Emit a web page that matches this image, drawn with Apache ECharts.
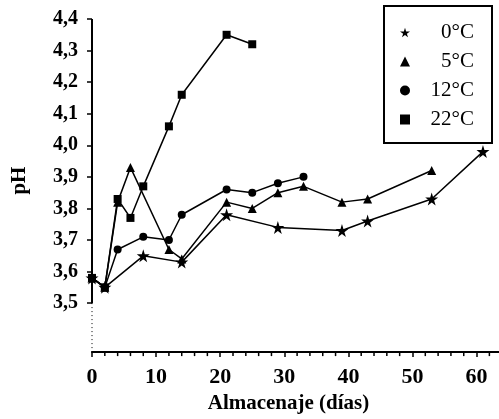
<!DOCTYPE html>
<html>
<head>
<meta charset="utf-8">
<script src="https://cdn.jsdelivr.net/npm/echarts@6/dist/echarts.min.js"></script>
<style>html,body{margin:0;padding:0;background:#fff;}#c{width:499px;height:419px;}</style>
</head>
<body>
<div id="c"></div>
<script>
// ---- data ----
const seriesNames = ['0°C', '5°C', '12°C', '22°C'];
const days0  = [0, 2, 8, 14, 21, 29, 39, 43, 53, 61];
const ph0    = [3.58, 3.55, 3.65, 3.63, 3.78, 3.74, 3.73, 3.76, 3.83, 3.98];
const days5  = [0, 2, 4, 6, 12, 14, 21, 25, 29, 33, 39, 43, 53];
const ph5    = [3.58, 3.55, 3.82, 3.93, 3.67, 3.64, 3.82, 3.80, 3.85, 3.87, 3.82, 3.83, 3.92];
const days12 = [0, 2, 4, 8, 12, 14, 21, 25, 29, 33];
const ph12   = [3.58, 3.55, 3.67, 3.71, 3.70, 3.78, 3.86, 3.85, 3.88, 3.90];
const days22 = [0, 2, 4, 6, 8, 12, 14, 21, 25];
const ph22   = [3.58, 3.55, 3.83, 3.77, 3.87, 4.06, 4.16, 4.35, 4.32];
const yTicks = [3.5, 3.6, 3.7, 3.8, 3.9, 4.0, 4.1, 4.2, 4.3, 4.4];
const xTicks = [0, 10, 20, 30, 40, 50, 60];

const FONT = 'Liberation Serif';
const STAR = 'path://M50,0 L61,35 L98,35 L68,57 L79,91 L50,70 L21,91 L32,57 L2,35 L39,35 Z';
const symbols = [STAR, 'triangle', 'circle', 'rect'];
const symSizes = [13, 9, 8, 8];

const pairs = (xs, ys) => xs.map((x, i) => [x, ys[i]]);
const allData = [pairs(days0, ph0), pairs(days5, ph5), pairs(days12, ph12), pairs(days22, ph22)];

const chart = echarts.init(document.getElementById('c'), null, {renderer: 'canvas'});

const dataSeries = seriesNames.map((n, i) => ({
  name: n,
  type: 'line',
  data: allData[i],
  symbol: symbols[i],
  symbolSize: symSizes[i],
  showAllSymbol: true,
  clip: false,
  lineStyle: {color: '#000', width: 1.5},
  itemStyle: {color: '#000', borderWidth: 0},
  emphasis: {disabled: true},
  z: 3 + i
}));

const yMin = 3.345, yMax = 4.4;

const option = {
  animation: false,
  backgroundColor: '#fff',
  grid: {left: 92, right: 0, top: 19, bottom: 61, containLabel: false},
  xAxis: {
    type: 'value', min: 0, max: 63.5,
    name: 'Almacenaje (días)', nameLocation: 'middle', nameGap: 38,
    nameTextStyle: {fontFamily: FONT, fontWeight: 'bold', fontSize: 21, color: '#000', padding: [0, 14, 0, 0]},
    axisLine: {show: true, lineStyle: {color: '#000', width: 2}},
    axisTick: {show: true, customValues: xTicks, length: 5, inside: false, lineStyle: {color: '#000', width: 1.5}},
    minorTick: {show: false},
    axisLabel: {customValues: xTicks, margin: 14, fontFamily: FONT, fontWeight: 'bold', fontSize: 22, color: '#000'},
    splitLine: {show: false}
  },
  yAxis: {
    type: 'value', min: yMin, max: yMax,
    name: 'pH', nameLocation: 'middle', nameGap: 62, nameRotate: 90,
    nameTextStyle: {fontFamily: FONT, fontWeight: 'bold', fontSize: 21, color: '#000', padding: [0, 0, 0, 10]},
    axisLine: {show: false},
    axisTick: {show: true, customValues: yTicks, length: 5, inside: false, lineStyle: {color: '#000', width: 1.5}},
    axisLabel: {customValues: yTicks, margin: 14, fontFamily: FONT, fontWeight: 'bold', fontSize: 20, color: '#000',
      formatter: v => v.toFixed(1).replace('.', ',')},
    splitLine: {show: false}
  },
  legend: {
    orient: 'vertical', left: 384, top: 6,
    padding: [16, 18, 13, 16],
    borderColor: '#000', borderWidth: 2, backgroundColor: '#fff',
    itemWidth: 10, itemHeight: 10, itemGap: 8,
    selectedMode: false,
    data: seriesNames.map((n, i) => ({name: n, icon: symbols[i], itemStyle: {color: '#000'}})),
    formatter: n => '{a|' + n + '}',
    textStyle: {
      fontFamily: FONT, fontSize: 21, color: '#000',
      rich: {a: {fontFamily: FONT, fontSize: 21, color: '#000', width: 59, align: 'right', lineHeight: 20}}
    }
  },
  series: [
    {
      type: 'line', silent: true, symbol: 'none', clip: false,
      data: [[0, yMin], [0, 3.5]],
      lineStyle: {color: '#000', width: 1, type: [1, 3]}, z: 1
    },
    {
      type: 'line', silent: true, symbol: 'none', clip: false,
      data: [[0, 3.5], [0, yMax]],
      lineStyle: {color: '#000', width: 2}, z: 1
    }
  ].concat(dataSeries)
};
chart.setOption(option);

// minor ticks every 2 days, drawn through the x axis scale
const minorDays = [];
for (let d = 0; d <= 62; d += 2) if (d % 10 !== 0) minorDays.push(d);
const y0 = chart.convertToPixel({gridIndex: 0}, [0, yMin])[1];
chart.setOption({
  graphic: minorDays.map(d => {
    const x = chart.convertToPixel({gridIndex: 0}, [d, yMin])[0];
    return {type: 'line', shape: {x1: x, y1: y0, x2: x, y2: y0 + 4}, style: {stroke: '#000', lineWidth: 1.5}, silent: true};
  })
});
</script>
</body>
</html>
